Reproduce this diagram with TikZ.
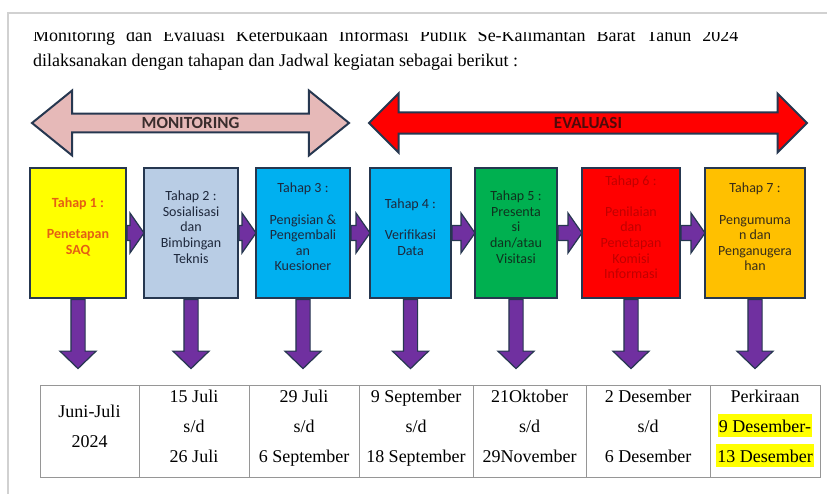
\documentclass[tikz,border=0pt]{standalone}
\usepackage{fontspec}
\setmainfont{Liberation Serif}
\newfontfamily\calibri{Carlito}
\usetikzlibrary{shapes.arrows}
\usetikzlibrary{positioning}
\usetikzlibrary{calc}

\definecolor{garis}{RGB}{38,55,80}
\definecolor{merahmuda}{RGB}{230,185,184}
\definecolor{ungu}{RGB}{112,48,160}
\definecolor{kuning}{RGB}{255,255,0}
\definecolor{biruabu}{RGB}{185,205,229}
\definecolor{biru}{RGB}{0,176,240}
\definecolor{hijau}{RGB}{0,176,80}
\definecolor{merah}{RGB}{255,0,0}
\definecolor{oranye}{RGB}{255,192,0}
\definecolor{teksoranye}{RGB}{228,95,20}
\definecolor{teksgelap}{RGB}{30,40,60}
\definecolor{tekshijau}{RGB}{15,50,30}
\definecolor{teksmerah}{RGB}{192,0,0}
\definecolor{tekscoklat}{RGB}{55,45,25}
\definecolor{teksmonitor}{RGB}{58,45,45}
\definecolor{teksevaluasi}{RGB}{80,10,10}
\definecolor{garistabel}{RGB}{150,150,150}
\definecolor{stabilo}{RGB}{255,255,0}

% yellow text marker used in the last table column
\newcommand{\sorot}[1]{{\setlength{\fboxsep}{1pt}\colorbox{stabilo}{\rule[-3pt]{0pt}{21pt}#1}}}

\tikzset{x=1pt, y=-1pt,      % pixel-like coordinates, y pointing down
    tahap/.style={           % the seven stage boxes
        draw=garis,
        line width=2pt,
        minimum height=130,
        inner sep=0pt},
    teks/.style={            % text inside a stage box
        font=\calibri\fontsize{14}{15.6}\selectfont,
        align=center,
        yshift=6pt},
    panahkanan/.style={      % purple block arrow from one stage to the next
        draw=garis, fill=ungu, line width=1.2pt, line join=miter},
    panahbawah/.style={      % purple arrow from a stage down to its date
        single arrow, shape border rotate=270,
        draw=garis, fill=ungu, line width=1.2pt,
        minimum height=69, minimum width=35, inner sep=6.5pt,
        single arrow head extend=11, single arrow tip angle=92},
    fase/.style={            % big MONITORING / EVALUASI arrows
        double arrow,
        draw=garis, line width=2pt,
        font=\calibri\bfseries\fontsize{17}{17}\selectfont,
        inner sep=0pt},
    sel/.style={             % one cell of the schedule table
        draw=garistabel, line width=1pt,
        minimum height=92, outer sep=0pt, inner sep=0pt,
        align=center, text depth=9pt,
        font=\fontsize{18}{30}\selectfont}}

\begin{document}
\begin{tikzpicture}
    \useasboundingbox (0,0) rectangle (827,494);
    % edge of the scanned page
    \draw[line width=2.5pt, black!18] (8,494) -- (8,13) -- (827,13);

    % intro text, first line cut at the top
    \begin{scope}
        \clip (0,33) rectangle (827,52);
        \node[anchor=base west, inner sep=0pt, font=\fontsize{18}{22}\selectfont] (judul1) at (33,42)
            {\makebox[705pt][s]{Monitoring dan Evaluasi Keterbukaan Informasi Publik Se-Kalimantan Barat Tahun 2024}};
    \end{scope}
    \node[anchor=base west, inner sep=0pt, font=\fontsize{18}{22}\selectfont] (judul2) at (33,67)
        {dilaksanakan dengan tahapan dan Jadwal kegiatan sebagai berikut :};

    % the two phases
    \node[fase, fill=merahmuda, text=teksmonitor, minimum height=317, minimum width=65,
          double arrow head extend=16.5, double arrow tip angle=78] (monitoring) at (190.5,123) {MONITORING};
    \node[fase, fill=merah, text=teksevaluasi, minimum height=438, minimum width=59,
          double arrow head extend=12, double arrow tip angle=90] (evaluasi) at (588,123) {EVALUASI};

    % stages
    \node[tahap, minimum width=96, fill=kuning,
          label={[teks, text=teksoranye, font=\calibri\bfseries\fontsize{14}{15.6}\selectfont]center:{Tahap 1 :\\[15.6pt]Penetapan\\SAQ}}] (t1) at (78,233) {};
    \node[tahap, minimum width=94, fill=biruabu,
          label={[teks, text=teksgelap]center:{Tahap 2 :\\Sosialisasi\\dan\\Bimbingan\\Teknis}}] (t2) at (191,233) {};
    \node[tahap, minimum width=94, fill=biru,
          label={[teks, text=teksgelap]center:{Tahap 3 :\\[15.6pt]Pengisian \&\\Pengembali\\an\\Kuesioner}}] (t3) at (303,233) {};
    \node[tahap, minimum width=81, fill=biru,
          label={[teks, text=teksgelap]center:{Tahap 4 :\\[15.6pt]Verifikasi\\Data}}] (t4) at (410.5,233) {};
    \node[tahap, minimum width=82, fill=hijau,
          label={[teks, text=tekshijau]center:{Tahap 5 :\\Presenta\\si\\dan/atau\\Visitasi}}] (t5) at (516,233) {};
    \node[tahap, minimum width=98, fill=merah,
          label={[teks, text=teksmerah]center:{Tahap 6 :\\[15.6pt]Penilaian\\dan\\Penetapan\\Komisi\\Informasi}}] (t6) at (631,233) {};
    \node[tahap, minimum width=100, fill=oranye,
          label={[teks, text=tekscoklat]center:{Tahap 7 :\\[15.6pt]Pengumuma\\n dan\\Penganugera\\han}}] (t7) at (755,233) {};

    % schedule table
    \node[sel, minimum width=99] (j1) at (89.5,431) {Juni-Juli\\2024};
    \node[sel, minimum width=110, right=0pt of j1] (j2) {15 Juli\\s/d\\26 Juli};
    \node[sel, minimum width=110, right=0pt of j2] (j3) {29 Juli\\s/d\\6 September};
    \node[sel, minimum width=114, right=0pt of j3] (j4) {9 September\\s/d\\18 September};
    \node[sel, minimum width=113, right=0pt of j4] (j5) {21Oktober\\s/d\\29November};
    \node[sel, minimum width=124, right=0pt of j5] (j6) {2 Desember\\s/d\\6 Desember};
    \node[sel, minimum width=110, right=0pt of j6] (j7) {Perkiraan\\\sorot{9 Desember-}\\\sorot{13 Desember}};

    % block arrows between stages
    \foreach \a/\b in {t1/t2, t2/t3, t3/t4, t4/t5, t5/t6, t6/t7}
        \draw[panahkanan] let \p1=(\a.east), \p2=(\b.west) in
            (\x1,\y1+7.5pt) -- (\x2-13pt,\y1+7.5pt) -- (\x2-13pt,\y1+20pt) -- (\x2+1pt,\y1)
            -- (\x2-13pt,\y1-20pt) -- (\x2-13pt,\y1-7.5pt) -- (\x1,\y1-7.5pt) -- cycle;

    % arrows from each stage down to its date
    \foreach \i in {1,...,7}
        \path (t\i.south) -- (j\i.north) node[pos=0, anchor=tail, panahbawah] {};
\end{tikzpicture}
\end{document}
